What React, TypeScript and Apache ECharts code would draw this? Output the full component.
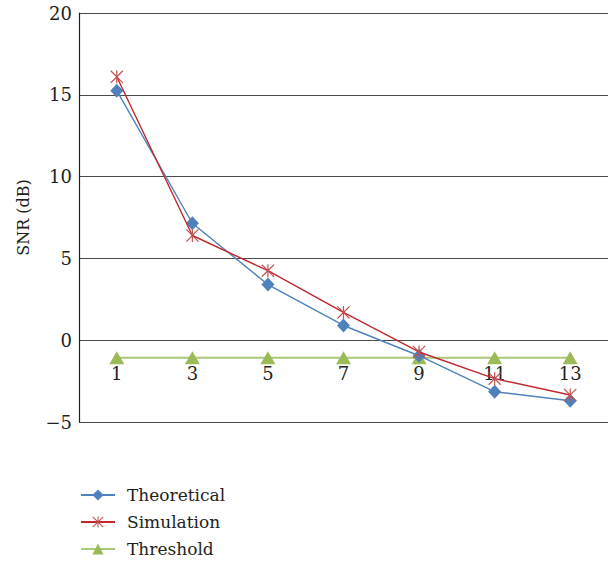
import React, { useEffect, useRef } from "react";
import * as echarts from "echarts";

const categories = ["1", "3", "5", "7", "9", "11", "13"];
const theoretical = [15.25, 7.15, 3.4, 0.9, -0.95, -3.15, -3.7];
const simulation = [16.1, 6.4, 4.25, 1.7, -0.72, -2.35, -3.35];
const threshold = [-1.07, -1.07, -1.07, -1.07, -1.07, -1.07, -1.07];
const yTicks = { min: -5, max: 20, interval: 5 };

const asterisk =
  "path://M9.1 0 L10.9 0 L10.9 20 L9.1 20 Z M0 1.3 L1.3 0 L20 18.7 L18.7 20 Z M18.7 0 L20 1.3 L1.3 20 L0 18.7 Z";

const FONT = "DejaVu Serif, serif";
const GRID_H = 563 - 13 - 141;

export default function App() {
  const ref = useRef<HTMLDivElement>(null);
  useEffect(() => {
    if (!ref.current) return;
    const chart = echarts.init(ref.current, null, { renderer: "svg" });
    chart.setOption({
      animation: false,
      backgroundColor: "#ffffff",
      textStyle: { fontFamily: FONT },
      grid: { left: 79, right: 8, top: 13, bottom: 141, containLabel: false },
      legend: {
        orient: "vertical",
        left: 80,
        top: 485,
        itemWidth: 34,
        itemHeight: 14,
        itemGap: 7,
        padding: 0,
        textStyle: {
          fontFamily: FONT,
          fontSize: 17,
          color: "#231f20",
          lineHeight: 20,
          padding: [0, 0, 0, 7],
        },
        data: ["Theoretical", "Simulation", "Threshold"],
      },
      xAxis: {
        type: "category",
        data: categories,
        boundaryGap: true,
        position: "bottom",
        offset: -(GRID_H * (0 - yTicks.min)) / (yTicks.max - yTicks.min),
        axisLine: { show: false, onZero: false },
        axisTick: { show: false },
        axisLabel: {
          margin: 24,
          fontFamily: FONT,
          fontSize: 18,
          color: "#231f20",
        },
        splitLine: { show: false },
      },
      yAxis: {
        type: "value",
        min: yTicks.min,
        max: yTicks.max,
        interval: yTicks.interval,
        name: "SNR (dB)",
        nameLocation: "middle",
        nameGap: 48,
        nameRotate: 90,
        nameTextStyle: { fontFamily: FONT, fontSize: 16, color: "#231f20" },
        axisLine: { show: true, onZero: false, lineStyle: { color: "#231f20", width: 1.2 } },
        axisTick: { show: false },
        axisLabel: {
          margin: 7,
          fontFamily: FONT,
          fontSize: 18,
          color: "#231f20",
          formatter: (v: number) => String(v).replace("-", "\u2212"),
        },
        splitLine: { show: true, lineStyle: { color: "#4a4a4a", width: 1.2 } },
      },
      series: [
        {
          name: "Threshold",
          type: "line",
          data: threshold,
          symbol: "triangle",
          symbolSize: [15, 13],
          lineStyle: { color: "#a9c97a", width: 2 },
          itemStyle: { color: "#9bbb59" },
          z: 2,
        },
        {
          name: "Theoretical",
          type: "line",
          data: theoretical,
          symbol: "diamond",
          symbolSize: [13, 14],
          lineStyle: { color: "#4f81bd", width: 1.4 },
          itemStyle: { color: "#4f81bd" },
          z: 3,
        },
        {
          name: "Simulation",
          type: "line",
          data: simulation,
          symbol: asterisk,
          symbolSize: 13,
          lineStyle: { color: "#c0282d", width: 1.4 },
          itemStyle: { color: "#c0504d" },
          z: 4,
        },
      ],
    });
    return () => chart.dispose();
  }, []);
  return <div ref={ref} style={{ width: 616, height: 563, position: "absolute", left: 0, top: 0 }} />;
}
